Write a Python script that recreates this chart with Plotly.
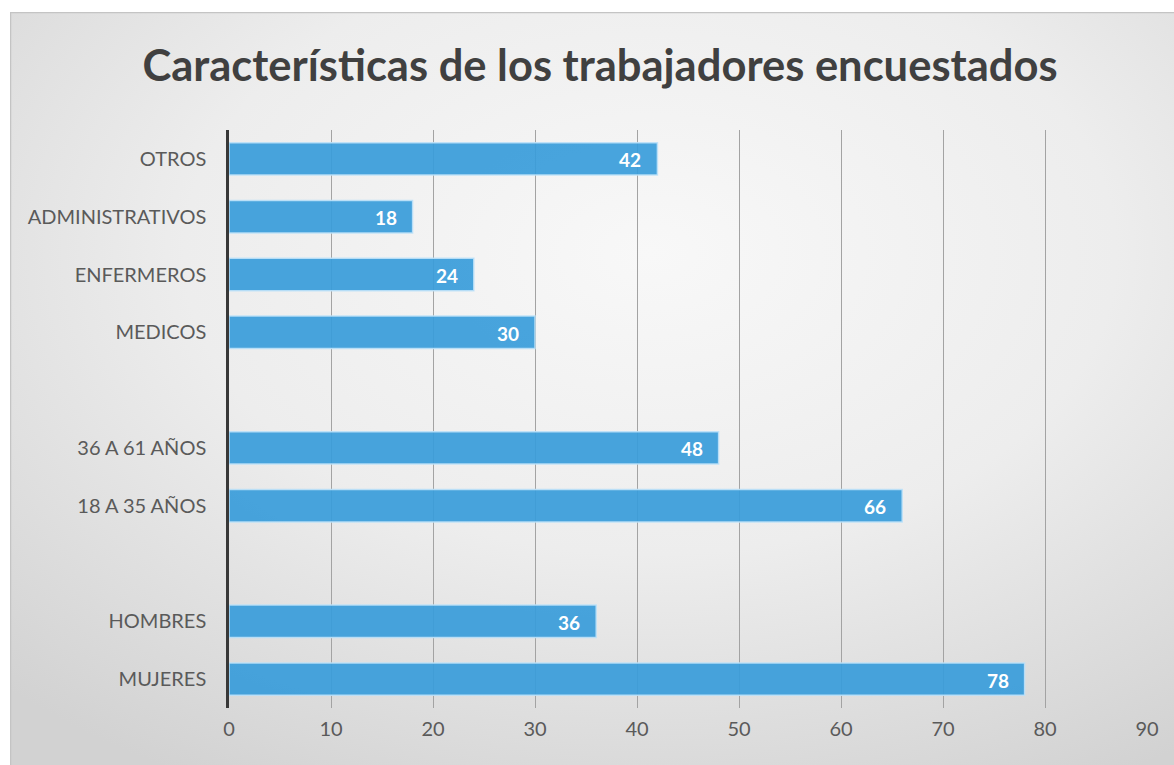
import base64
import plotly.graph_objects as go

# Survey groups, listed bottom-to-top; an empty slot separates each group
groups = [
    ["MUJERES", "HOMBRES"],
    ["18 A 35 AÑOS", "36 A 61 AÑOS"],
    ["MEDICOS", "ENFERMEROS", "ADMINISTRATIVOS", "OTROS"],
]
group_values = [
    [78, 36],
    [66, 48],
    [30, 24, 18, 42],
]
x_ticks = [0, 10, 20, 30, 40, 50, 60, 70, 80, 90]

title_text = "Características de los trabajadores encuestados"

# Slot positions: one slot per category, one empty slot between groups
labels, values, slots = [], [], []
slot = 0
for gi, (names, vals) in enumerate(zip(groups, group_values)):
    if gi > 0:
        slot += 1
    for n, v in zip(names, vals):
        labels.append(n)
        values.append(v)
        slots.append(slot)
        slot += 1
n_slots = slot

W, H = 1174, 765
M = dict(l=229, r=27, t=130, b=57)
pw, ph = W - M["l"] - M["r"], H - M["t"] - M["b"]

# Soft radial backdrop with a thin frame
bg_x0, bg_y0 = 10, 12
bw, bh = W - bg_x0, H - bg_y0
svg = f"""<svg xmlns='http://www.w3.org/2000/svg' width='{bw}' height='{bh}' viewBox='0 0 {bw} {bh}' preserveAspectRatio='none'>
<defs><radialGradient id='g' cx='0.55' cy='0.32' r='0.8' gradientUnits='objectBoundingBox'>
<stop offset='0' stop-color='#f8f8f8'/><stop offset='0.5' stop-color='#ededed'/>
<stop offset='1' stop-color='#d2d2d2'/></radialGradient></defs>
<rect x='0' y='0' width='{bw}' height='{bh}' fill='url(#g)'/>
<path d='M0.5,{bh} L0.5,0.5 L{bw},0.5' fill='none' stroke='#c4c4c4' stroke-width='1.5'/>
</svg>"""
src = "data:image/svg+xml;base64," + base64.b64encode(svg.encode("utf-8")).decode("ascii")

fig = go.Figure()
fig.add_trace(go.Bar(
    x=values,
    y=slots,
    orientation="h",
    width=0.56,
    marker=dict(color="rgba(56,156,218,0.92)",
                line=dict(color="rgba(190,225,248,0.9)", width=1.5)),
    hoverinfo="skip",
))

# Value labels inside the end of each bar
for v, s in zip(values, slots):
    fig.add_annotation(
        x=v, y=s, text=f"<b>{v}</b>", showarrow=False,
        xanchor="right", xshift=-14, yshift=-1,
        font=dict(family="Lato", size=19, color="white"),
    )

fig.add_layout_image(
    source=src, xref="paper", yref="paper",
    x=(bg_x0 - M["l"]) / pw, y=(H - M["b"] - bg_y0) / ph,
    sizex=bw / pw, sizey=bh / ph,
    xanchor="left", yanchor="top", sizing="stretch", layer="below",
)

fig.update_layout(
    width=W, height=H,
    margin=M,
    paper_bgcolor="white",
    plot_bgcolor="rgba(0,0,0,0)",
    showlegend=False,
    title=dict(text=f"<b>{title_text}</b>", x=600 / W, xref="container", xanchor="center",
               y=1 - 66 / H, yref="container", yanchor="middle",
               font=dict(family="Lato", size=43.5, color="#404040")),
    xaxis=dict(
        range=[0, 90], tickvals=x_ticks, ticktext=[str(t) for t in x_ticks],
        showgrid=True, gridcolor="#a3a3a3", gridwidth=1.2,
        zeroline=False, showline=False,
        ticks="outside", ticklen=3, tickcolor="rgba(0,0,0,0)",
        tickfont=dict(family="Lato", size=20, color="#5a5a5a"),
        fixedrange=True,
    ),
    yaxis=dict(
        range=[-0.5, n_slots - 0.5], tickvals=slots, ticktext=labels,
        showgrid=False, zeroline=False,
        showline=True, linecolor="#383838", linewidth=2.5,
        ticks="outside", ticklen=16, tickcolor="rgba(0,0,0,0)",
        tickfont=dict(family="Lato", size=20, color="#5a5a5a"),
        fixedrange=True,
    ),
)

fig.write_html("out.html")
